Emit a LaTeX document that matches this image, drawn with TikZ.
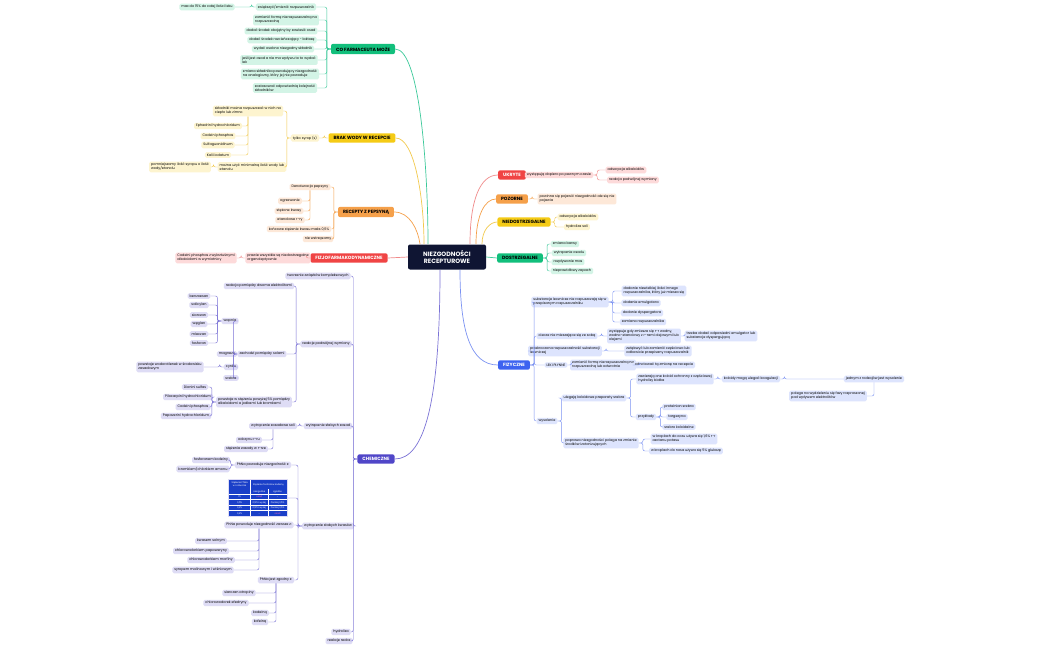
\documentclass[tikz,border=0pt]{standalone}
\usepackage{fontspec}
\setmainfont{Poppins}
\begin{document}
\definecolor{gM}{HTML}{12BF7C}\definecolor{gL}{HTML}{D3F4E6}\definecolor{gC}{HTML}{3CC99A}
\definecolor{yM}{HTML}{F5CB16}\definecolor{yL}{HTML}{FDF4CF}\definecolor{yC}{HTML}{F2C94C}
\definecolor{oM}{HTML}{F5A04A}\definecolor{oL}{HTML}{FDE8D8}\definecolor{oC}{HTML}{F5A04A}
\definecolor{rM}{HTML}{F04444}\definecolor{rL}{HTML}{FDDADA}\definecolor{rC}{HTML}{F08A8A}
\definecolor{bM}{HTML}{3D63F0}\definecolor{bL}{HTML}{DDE4FD}\definecolor{bC}{HTML}{7B92F2}
\definecolor{pM}{HTML}{5046C8}\definecolor{pL}{HTML}{DEDCF5}\definecolor{pC}{HTML}{7B73D6}
\definecolor{cen}{HTML}{0F1533}\definecolor{tabB}{HTML}{1A3FC8}
\begin{tikzpicture}[x=1pt,y=-1pt,
 every node/.style={font=\fontsize{3.4}{4.1}\selectfont,align=left,rounded corners=1.5pt,inner xsep=2pt,inner ysep=1.5pt},
 main/.style={font=\fontsize{4.6}{5}\selectfont\bfseries,inner xsep=5pt,inner ysep=3pt,rounded corners=2pt},
 sG/.style={fill=gL},sY/.style={fill=yL},sO/.style={fill=oL},sR/.style={fill=rL},sB/.style={fill=bL},sP/.style={fill=pL},
 con/.style={draw,line width=0.45pt,rounded corners=2pt},
 mc/.style={draw,line width=0.7pt}]
\newcommand\lk[3]{\draw[con,#1] (#2.west) -- ++(-4,0) |- (#3.east);}
\newcommand\rk[3]{\draw[con,#1] (#2.east) -- ++(4,0) |- (#3.west);}
\newcommand\sk[3]{\draw[con,#1] (#2.south) |- (#3.east);}
\useasboundingbox (0,0) rectangle (1050,650);
\fill[white] (0,0) rectangle (1050,650);
% center
\node[fill=cen,text=white,main,font=\fontsize{6.2}{7}\selectfont\bfseries,align=center,minimum width=78pt,minimum height=25pt] (C) at (447,257) {NIEZGODNOŚCI\\RECEPTUROWE};
% ===== green
\node[main,fill=gM] (G) at (363,49) {CO FARMACEUTA MOŻE};
\node[sG] (g1) at (286,7) {zwiększyć/zmienić rozpuszczalnik};
\node[sG] (g1a) at (207,7) {max do 15\% do całej ilości leku};
\node[sG] (g2) at (286,20) {zamienić formę nierozpuszczalną na\\rozpuszczalną};
\node[sG] (g3) at (281,31) {dodać środek obojętny by zawiesić osad};
\node[sG] (g4) at (282,40) {dodać środek rozcieńczający - laktozę};
\node[sG] (g5) at (283,49) {wydać osobno niezgodny składnik};
\node[sG] (g6) at (279,60) {jeśli jest osad a nie ma wpływu to to wydać\\lek};
\node[sG] (g7) at (280,74) {zmiana składnika powodujący niezgodność\\na analogiczny, który jej nie powoduje};
\node[sG] (g8) at (285,88) {zastosować odpowiednią kolejność\\składników};
\foreach \c in {g1,g2,g3,g4,g5,g6,g7,g8}{\lk{gC}{G}{\c}}
\lk{gC}{g1}{g1a}
\draw[mc,gC] (G.east) .. controls (420,49) and (428,170) .. (428,244);
% ===== yellow
\node[main,fill=yM] (Y) at (362,138) {BRAK WODY W RECEPCIE};
\node[sY] (y1) at (305,138) {tylko syrop (s)};
\node[sY] (y2) at (248,111) {składniki można rozpuszczać w nich na\\ciepło lub zimno};
\node[sY] (y2a) at (218,126) {Ephedrini hydrochloridum};
\node[sY] (y2b) at (218,136) {Codeini phosphas};
\node[sY] (y2c) at (218,145) {Sulfaguanidinum};
\node[sY] (y2d) at (218,155) {Kalii iodatum};
\node[sY] (y3) at (252,167) {można użyć minimalną ilość wody lub\\etanolu};
\node[sY] (y3a) at (180,167) {pomniejszamy ilość syropu o ilość\\wody/etanolu};
\lk{yC}{Y}{y1}\lk{yC}{y1}{y2}\lk{yC}{y1}{y3}\lk{yC}{y3}{y3a}
\foreach \c in {y2a,y2b,y2c,y2d}{\sk{yC}{y2}{\c}}
\draw[mc,yC] (Y.east) .. controls (415,138) and (424,200) .. (424,244);
% ===== orange
\node[main,fill=oM] (O) at (366,212) {RECEPTY Z PEPSYNĄ};
\node[sO] (o1) at (310,187) {Denaturacja pepsyny};
\node[sO] (o1a) at (290,201) {ogrzewanie};
\node[sO] (o1b) at (289,211) {stężone kwasy};
\node[sO] (o1c) at (290,220) {etanolowe r-ry};
\node[sO] (o2) at (299,229) {końcowe stężenie kwasu maks 0,5\%};
\node[sO] (o3) at (318,239) {nie wstrząsamy};
\foreach \c in {o1,o2,o3}{\lk{oC}{O}{\c}}
\foreach \c in {o1a,o1b,o1c}{\sk{oC}{o1}{\c}}
\draw[mc,oC] (O.east) .. controls (410,212) and (418,230) .. (420,244);
% ===== red
\node[main,fill=rM,text=white] (R) at (349,258) {FIZJOFARMAKODYNAMICZNE};
\node[sR] (r1) at (278,258) {prawie wszystkie są niedostrzegalne\\organoleptycznie};
\node[sR] (r1a) at (206,258) {Codeini phosphas z wykrztuśnymi\\alkaloidami w wymiotnicy};
\lk{rC}{R}{r1}\lk{rC}{r1}{r1a}
\draw[mc,rC] (R.east) -- (C.west);
% ===== right side
\node[main,fill=rM,text=white] (U) at (512,175) {UKRYTE};
\node[sR] (u1) at (559,175) {występują dopiero po pewnym czasie};
\node[sR] (u1a) at (626,170) {adsorpcja alkaloidów};
\node[sR] (u1b) at (633,180) {reakcja podwójnej wymiany};
\rk{rC}{U}{u1}\rk{rC}{u1}{u1a}\rk{rC}{u1}{u1b}
\draw[mc,rC] (470,244) .. controls (470,200) and (480,175) .. (U.west);
\node[main,fill=oM] (P) at (512,199) {POZORNE};
\node[sO] (p1) at (577,199) {powinna się pojawić niezgodność ale się nie\\pojawia};
\rk{oC}{P}{p1}
\draw[mc,oC] (476,244) .. controls (476,215) and (485,199) .. (P.west);
\node[main,fill=yM] (N) at (524,222) {NIEDOSTRZEGALNE};
\node[sY] (n1) at (578,217) {adsorpcja alkaloidów};
\node[sY] (n2) at (577,227) {hydroliza soli};
\rk{yC}{N}{n1}\rk{yC}{N}{n2}
\draw[mc,yC] (482,244) .. controls (482,230) and (490,222) .. (N.west);
\node[main,fill=gM] (D) at (520,258) {DOSTRZEGALNE};
\node[sG] (d1) at (565,244) {zmiana barwy};
\node[sG] (d2) at (569,253) {wytrącenie osadu};
\node[sG] (d3) at (568,262) {rozpływanie mas};
\node[sG] (d4) at (572,271) {nieprawidłowy zapach};
\foreach \c in {d1,d2,d3,d4}{\rk{gC}{D}{\c}}
\draw[mc,gC] (C.east) -- (D.west);
% ===== blue FIZYCZNE
\node[main,fill=bM,text=white] (F) at (514,365) {FIZYCZNE};
\draw[mc,bC] (460,270) .. controls (460,330) and (470,365) .. (F.west);
\node[sB] (f1) at (570,302) {substancje lecznicze nie rozpuszczają się w\\przepisanym rozpuszczalniku};
\node[sB] (f1a) at (654,291) {dodanie niewielkiej ilości innego\\rozpuszczalnika, który już miesza się};
\node[sB] (f1b) at (641,303) {dodanie emulgatora};
\node[sB] (f1c) at (642,313) {dodanie dyspergatora};
\node[sB] (f1d) at (643,322) {zamiana rozpuszczalnika};
\node[sB] (f2) at (567,336) {ciecze nie mieszające się ze sobą};
\node[sB] (f2a) at (644,336) {występuje gdy zmiesza się r-r wodny,\\wodno-etanolowy z r-rami olejowymi lub\\olejami};
\node[sB] (f2b) at (721,336) {trzeba dodać odpowiedni emulgator lub\\substancje dyspergującą};
\node[sB] (f3) at (565,351) {przekroczona rozpuszczalność substancji\\leczniczej};
\node[sB] (f3a) at (658,351) {zwiększyć lub zamienić częściowo lub\\całkowicie przepisany rozpuszczalnik};
\node[sB] (f4) at (556,365) {LEKI PŁYNNE};
\node[sB] (f4a) at (603,365) {zamienić formę nierozpuszczalną na\\rozpuszczalną lub odwrotnie};
\node[sB] (f4b) at (664,365) {odnotować tą zmianę na recepcie};
\node[sB] (f5) at (547,421) {wysolenie};
\node[sB] (f5a) at (594,398) {ulegają koloidowe preparaty srebra};
\node[sB] (f5a1) at (675,379) {zawierają one koloid ochronny z częściowej\\hydrolizy białka};
\node[sB] (f5a1a) at (751,379) {koloidy mogą ulegać koagulacji};
\node[sB] (f5a1b) at (874,379) {jednym z rodzajów jest wysolenie};
\node[sB] (f5a1c) at (828,396) {polega na wydzieleniu się fazy rozproszonej\\pod wpływem elektrolitów};
\node[sB] (f5a2) at (646,417) {przykłady};
\node[sB] (e1) at (679,407) {proteinian srebra};
\node[sB] (e2) at (677,417) {targezyna};
\node[sB] (e3) at (679,427) {srebro koloidalne};
\node[sB] (f5b) at (601,443) {poprawa niezgodności polega na zmianie\\środków izotonizujących};
\node[sB] (f5b1) at (684,439) {w kroplach do oczu używa się 1,6\% r-r\\azotanu potasu};
\node[sB] (f5b2) at (686,451) {w kroplach do nosa używa się 5\% glukozę};
\foreach \c in {f1,f2,f3,f4,f5}{\rk{bC}{F}{\c}}
\foreach \c in {f1a,f1b,f1c,f1d}{\rk{bC}{f1}{\c}}
\rk{bC}{f2}{f2a}\rk{bC}{f2a}{f2b}\rk{bC}{f3}{f3a}\rk{bC}{f4}{f4a}\rk{bC}{f4a}{f4b}
\rk{bC}{f5}{f5a}\rk{bC}{f5}{f5b}\rk{bC}{f5a}{f5a1}\rk{bC}{f5a}{f5a2}
\rk{bC}{f5a1}{f5a1a}\rk{bC}{f5a1a}{f5a1b}\sk{bC}{f5a1b}{f5a1c}
\foreach \c in {e1,e2,e3}{\rk{bC}{f5a2}{\c}}
\rk{bC}{f5b}{f5b1}\rk{bC}{f5b}{f5b2}
% ===== purple CHEMICZNE
\node[main,fill=pM,text=white] (H) at (376,459) {CHEMICZNE};
\draw[mc,pC] (440,270) .. controls (440,400) and (425,459) .. (H.east);
\node[sP] (h1) at (318,276) {tworzenie związków kompleksowych};
\node[sP] (h2) at (326,344) {reakcje podwójnej wymiany};
\node[sP] (h21) at (259,286) {reakcja pomiędzy dwoma elektrolitami};
\node[sP] (h22) at (262,354) {zachodzi pomiędzy solami};
\node[sP] (wa) at (230,321) {wapnia};
\node[sP] (w1) at (199,296) {benzoesan};
\node[sP] (w2) at (199,305) {salicylan};
\node[sP] (w3) at (199,315) {siarczan};
\node[sP] (w4) at (199,324) {węglan};
\node[sP] (w5) at (199,334) {mleczan};
\node[sP] (w6) at (199,343) {fosforan};
\node[sP] (mg) at (227,354) {magnezu};
\node[sP] (zn) at (231,367) {cynku};
\node[sP] (zna) at (170,367) {powstaje wodorotlenek w środowisku\\zasadowym};
\node[sP] (ag) at (231,378) {srebra};
\node[sP] (h23) at (254,402) {powstaje w stężeniu powyżej 5\% pomiędzy\\alkaloidami a jodkami lub bromkami};
\node[sP] (k1) at (195,387) {Dionini sulfas};
\node[sP] (k2) at (188,397) {Pilocarpini hydrochloridum};
\node[sP] (k3) at (193,407) {Codeini phosphas};
\node[sP] (k4) at (186,416) {Papaverini hydrochloridum};
\node[sP] (h3) at (328,426) {wytrącenie słabych zasad};
\node[sP] (h31) at (273,426) {wytrącenie zasadowe soli};
\node[sP] (h31a) at (249,440) {odczynu r-ru};
\node[sP] (h31b) at (246,449) {stężenia zasady w r-rze};
\node[sP] (h4) at (328,526) {wytrącenie słabych kwasów};
\node[sP] (h41) at (263,465) {PhNa powoduje niezgodność z:};
\node[sP] (h41a) at (211,460) {fosforanem kodeiny};
\node[sP] (h41b) at (203,469) {bromkiem/chlorkiem amonu};
\node[fill=tabB,draw=pL,line width=1pt,text=white,rounded corners=0pt,inner sep=0.5pt,font=\fontsize{2.3}{2.7}\selectfont] (tab) at (258,498) {%
\renewcommand\arraystretch{1.9}\setlength\tabcolsep{2.5pt}%
\begin{tabular}{c|c|c}
\begin{tabular}{@{}c@{}}Stężenie PhNa\\[-2pt]w roztworze\end{tabular} & \multicolumn{2}{c}{Stężenie fosforanu kodeiny}\\
 & niezgodne & zgodne\\\hline
1\% & \textcolor{magenta!60}{osad} & -\\\hline
0,5\% & 0,5\% i wyżej & Poniżej 0,5\%\\\hline
0,2\% & 0,5\% i wyżej & Poniżej 0,5\%\\\hline
0,2\% & - & \textcolor{magenta!60}{osad}
\end{tabular}};
\node[sP] (h42) at (259,525) {PhNa powoduje niezgodność zawsze z:};
\node[sP] (z1) at (211,541) {kwasem solnym};
\node[sP] (z2) at (201,551) {chlorowodorkiem papaweryny};
\node[sP] (z3) at (211,560) {chlorowodorkiem morfiny};
\node[sP] (z4) at (203,570) {syropem malinowym i wiśniowym};
\node[sP] (h43) at (276,580) {PhNa jest zgodny z:};
\node[sP] (c1) at (239,593) {siarczan atropiny};
\node[sP] (c2) at (226,603) {chlorowodorek efedryny};
\node[sP] (c3) at (260,613) {kodeiną};
\node[sP] (c4) at (260,622) {kofeiną};
\node[sP] (h5) at (341,632) {hydroliza};
\node[sP] (h6) at (339,641) {reakcje redox};
\foreach \c in {h1,h2,h3,h4,h5,h6}{\lk{pC}{H}{\c}}
\lk{pC}{h2}{h21}\lk{pC}{h2}{h22}\lk{pC}{h2}{h23}
\foreach \c in {wa,mg,zn,ag}{\lk{pC}{h22}{\c}}
\foreach \c in {w1,w2,w3,w4,w5,w6}{\lk{pC}{wa}{\c}}
\lk{pC}{zn}{zna}
\foreach \c in {k1,k2,k3,k4}{\lk{pC}{h23}{\c}}
\lk{pC}{h3}{h31}\sk{pC}{h31}{h31a}\sk{pC}{h31}{h31b}
\lk{pC}{h4}{h41}\lk{pC}{h4}{tab}\lk{pC}{h4}{h42}\lk{pC}{h4}{h43}
\lk{pC}{h41}{h41a}\lk{pC}{h41}{h41b}
\foreach \c in {z1,z2,z3,z4}{\sk{pC}{h42}{\c}}
\foreach \c in {c1,c2,c3,c4}{\sk{pC}{h43}{\c}}
\end{tikzpicture}
\end{document}
